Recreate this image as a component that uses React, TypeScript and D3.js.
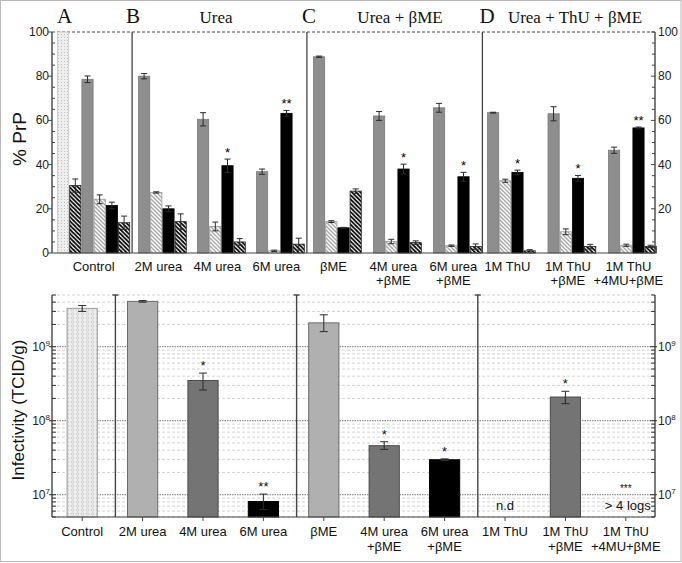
import React from "react";
import * as d3 from "d3";

// ---------- DATA ----------
const topGroups: string[][] = [
  ["Control"], ["2M urea"], ["4M urea"], ["6M urea"], ["βME"],
  ["4M urea", "+βME"], ["6M urea", "+βME"], ["1M ThU"], ["1M ThU", "+βME"], ["1M ThU", "+4MU+βME"],
];
const topGray = [78.6, 80, 60.5, 36.8, 88.8, 62, 65.7, 63.5, 63, 46.5];
const topGrayErr = [1.5, 1.2, 3, 1.2, 0.3, 2, 2, 0.2, 3.2, 1.4];
const topLight = [24.3, 27.4, 12, 1, 14.2, 5.2, 3.3, 32.7, 9.6, 3.5];
const topLightErr = [2, 0.3, 2, 0.3, 0.4, 1, 0.3, 0.7, 1.3, 0.5];
const topBlack = [21.5, 20, 39.5, 63.2, 11.4, 38, 34.5, 36.5, 33.8, 56.6];
const topBlackErr = [1.5, 1.3, 3, 1.3, 0.2, 2.2, 2, 1, 1.3, 0.4];
const topDark = [13.7, 14.2, 5, 4, 28, 4.7, 2.9, 1, 2.9, 3];
const topDarkErr = [3, 3.5, 1.5, 2.7, 1, 0.8, 1.2, 0.5, 1, 0.5];
const topBlackStars = ["", "", "*", "**", "", "*", "*", "*", "*", "**"];
const controlStippleVal = 100;
const controlHatchVal = 30.5;
const controlHatchErr = 3;
const topTicks = [0, 20, 40, 60, 80, 100];

const bottomCats: string[][] = [
  ["Control"], ["2M urea"], ["4M urea"], ["6M urea"], ["βME"],
  ["4M urea", "+βME"], ["6M urea", "+βME"], ["1M ThU"], ["1M ThU", "+βME"], ["1M ThU", "+4MU+βME"],
];
const bottomVals: (number | null)[] = [3.3e9, 4.1e9, 3.5e8, 8.1e6, 2.1e9, 4.6e7, 2.97e7, null, 2.09e8, null];
const bottomLow: (number | null)[] = [3.0e9, 4.0e9, 2.6e8, 6.3e6, 1.6e9, 4.1e7, 2.9e7, null, 1.7e8, null];
const bottomHigh: (number | null)[] = [3.6e9, 4.2e9, 4.4e8, 1.02e7, 2.7e9, 5.2e7, 3.05e7, null, 2.5e8, null];
const bottomStars = ["", "", "*", "**", "", "*", "*", "", "*", "***"];
const bottomNotes = ["", "", "", "", "", "", "", "n.d", "", "> 4 logs"];
const bottomFillKind = ["stippleO", "light", "dark", "black", "light", "dark", "black", "none", "dark", "none"];
const logExps = [7, 8, 9];

// ---------- LAYOUT ----------
const W = 682, H = 563;
const L = 52, R = 655;
const SANS = "'Liberation Sans', Arial, sans-serif";
const SERIF = "'Liberation Serif', 'Times New Roman', serif";

const yTop = d3.scaleLinear().domain([0, 100]).range([253, 32]);
const topX = d3.scaleLinear().domain([0, 1, 3, 4, 6, 7, 9]).range([57, 138, 256, 313, 433, 487, 608]);
const BW = 12.2;
const ctrlKeys = ["stipple", "hatchA", "gray", "light", "black", "dark"];
const grpKeys = ["gray", "light", "black", "dark"];
const innerCtrl = d3.scaleBand().domain(ctrlKeys).range([0, BW * 6]);
const innerGrp = d3.scaleBand().domain(grpKeys).range([0, BW * 4]);

const yBot = d3.scaleLog().domain([5e6, 5e9]).range([517, 295]);
const xBot = d3.scaleBand().domain(bottomCats.map((c) => c.join(" "))).range([52, 656]).paddingInner(0.5).paddingOuter(0.25);

const topFill: Record<string, string> = {
  stipple: "url(#stip)", hatchA: "url(#dhatch)", gray: "#8e8e8e", light: "url(#lhatch)", black: "#000", dark: "url(#dhatch)",
};
const topStroke: Record<string, string> = {
  stipple: "#c4c4c4", hatchA: "#222", gray: "#7a7a7a", light: "#9a9a9a", black: "#000", dark: "#222",
};
const botFill: Record<string, string> = { stippleO: "url(#stipO)", light: "#b0b0b0", dark: "#747474", black: "#000" };
const botStroke: Record<string, string> = { stippleO: "#9a9a9a", light: "#6a6a6a", dark: "#4a4a4a", black: "#000" };

function ErrBar({ x, y1, y2, cap }: { x: number; y1: number; y2: number; cap: number }) {
  return (
    <g stroke="#2a2a2a" strokeWidth={1}>
      <line x1={x} x2={x} y1={y1} y2={y2} />
      <line x1={x - cap} x2={x + cap} y1={y1} y2={y1} />
      <line x1={x - cap} x2={x + cap} y1={y2} y2={y2} />
    </g>
  );
}

export default function App() {
  const topBars: any[] = [];
  topGroups.forEach((g, i) => {
    const x0 = topX(i);
    const entries: [string, number, number][] = [];
    if (i === 0) {
      entries.push(["stipple", controlStippleVal, 0]);
      entries.push(["hatchA", controlHatchVal, controlHatchErr]);
    }
    entries.push(["gray", topGray[i], topGrayErr[i]]);
    entries.push(["light", topLight[i], topLightErr[i]]);
    entries.push(["black", topBlack[i], topBlackErr[i]]);
    entries.push(["dark", topDark[i], topDarkErr[i]]);
    const inner = i === 0 ? innerCtrl : innerGrp;
    entries.forEach(([k, v, e]) => {
      const x = x0 + (inner(k) as number);
      const cx = x + BW / 2;
      topBars.push(
        <g key={`t${i}${k}`}>
          <rect x={x + 0.5} y={yTop(v)} width={BW - 1} height={yTop(0) - yTop(v)} fill={topFill[k]} stroke={topStroke[k]} strokeWidth={0.8} />
          {e > 0 && <ErrBar x={cx} y1={yTop(v + e)} y2={yTop(Math.max(0, v - e))} cap={3} />}
          {k === "black" && topBlackStars[i] && (
            <text x={cx} y={yTop(v + e) - 2} fontSize={13} fontFamily={SANS} textAnchor="middle">{topBlackStars[i]}</text>
          )}
        </g>
      );
    });
  });
  const groupWidth = (i: number) => (i === 0 ? BW * 6 : BW * 4);
  const topLabelX = (i: number) => topX(i) + groupWidth(i) / 2 - (i === 0 ? 0 : 4);
  const topSep = (i: number) => (topX(i - 1) + groupWidth(i - 1) + topX(i)) / 2 - 2;

  const botSep = (i: number) => {
    const a = bottomCats[i - 1].join(" "), b = bottomCats[i].join(" ");
    return ((xBot(a) as number) + (xBot(b) as number) + xBot.bandwidth()) / 2 + 3;
  };
  const gridVals: { v: number; major: boolean }[] = [];
  [6, 7, 8, 9].forEach((d) => {
    for (let m = 1; m <= 9; m++) {
      const v = m * Math.pow(10, d);
      if (v >= 5e6 && v <= 5e9) gridVals.push({ v, major: m === 1 });
    }
  });

  return (
    <svg width={W} height={H} style={{ position: "absolute", left: 0, top: 0, background: "#fff" }}>
      <defs>
        <pattern id="dhatch" patternUnits="userSpaceOnUse" width={4.2} height={4.2}>
          <rect width={4.2} height={4.2} fill="#fff" />
          <path d="M-1,-1 L5.2,5.2 M-1,3.2 L1,5.2 M3.2,-1 L5.2,1" stroke="#000" strokeWidth={1.7} />
        </pattern>
        <pattern id="lhatch" patternUnits="userSpaceOnUse" width={4} height={4}>
          <rect width={4} height={4} fill="#fff" />
          <path d="M-1,-1 L5,5 M-1,3 L1,5 M3,-1 L5,1" stroke="#a8a8a8" strokeWidth={1.4} />
        </pattern>
        <pattern id="stip" patternUnits="userSpaceOnUse" width={3} height={3}>
          <rect width={3} height={3} fill="#efefef" />
          <rect x={1} y={1} width={1} height={1} fill="#c0c0c0" />
        </pattern>
        <pattern id="stipO" patternUnits="userSpaceOnUse" width={5} height={4}>
          <rect width={5} height={4} fill="#efefef" />
          <circle cx={2.5} cy={2} r={1.3} fill="none" stroke="#bdbdbd" strokeWidth={0.6} />
        </pattern>
      </defs>
      <rect x={0.5} y={0.5} width={W - 1.5} height={H - 2} fill="none" stroke="#b8b8b8" strokeWidth={1} />

      {/* ===== TOP PANEL ===== */}
      <line x1={L} x2={R} y1={yTop(100)} y2={yTop(100)} stroke="#333" strokeDasharray="3,2" strokeWidth={0.9} />
      {topBars}
      <line x1={L} x2={R} y1={yTop(0)} y2={yTop(0)} stroke="#444" strokeWidth={1.2} />
      <line x1={L} x2={L} y1={yTop(100)} y2={yTop(0)} stroke="#444" strokeWidth={1.4} />
      <line x1={R} x2={R} y1={yTop(100)} y2={yTop(0)} stroke="#444" strokeWidth={1.4} />
      {d3.range(0, 101, 5).map((t) => (
        <g key={`tt${t}`} stroke="#444" strokeWidth={1}>
          {t % 20 === 0 ? (
            <>
              <line x1={L - 4} x2={L} y1={yTop(t)} y2={yTop(t)} />
              <line x1={R - 4} x2={R} y1={yTop(t)} y2={yTop(t)} />
            </>
          ) : (
            <>
              <line x1={L} x2={L + 3} y1={yTop(t)} y2={yTop(t)} />
              <line x1={R - 3} x2={R} y1={yTop(t)} y2={yTop(t)} />
            </>
          )}
        </g>
      ))}
      {topTicks.map((t) => (
        <text key={`tl${t}`} x={L - 3} y={yTop(t) + 4} fontSize={12} fontFamily={SANS} textAnchor="end" fill="#222">{t}</text>
      ))}
      {topTicks.filter((t) => t > 0).map((t) => (
        <text key={`tr${t}`} x={R + 3} y={yTop(t) + 4} fontSize={12} fontFamily={SANS} textAnchor="start" fill="#222">{t}</text>
      ))}
      {[1, 4, 7].map((i) => (
        <line key={`ts${i}`} x1={topSep(i)} x2={topSep(i)} y1={yTop(100)} y2={yTop(0)} stroke="#444" strokeWidth={1.3} />
      ))}
      {topGroups.map((g, i) =>
        g.map((line, j) => (
          <text key={`tg${i}${j}`} x={topLabelX(i)} y={271 + j * 14} fontSize={13} fontFamily={SANS} textAnchor="middle" fill="#111">{line}</text>
        ))
      )}
      <text x={26} y={139} fontSize={19} fontFamily={SANS} textAnchor="middle" transform="rotate(-90 26 139)" fill="#111">% PrP</text>
      <text x={57} y={23} fontSize={21} fontFamily={SERIF} fill="#111">A</text>
      <text x={topSep(1) - 6} y={23} fontSize={21} fontFamily={SERIF} fill="#111">B</text>
      <text x={topSep(4) - 5} y={23} fontSize={21} fontFamily={SERIF} fill="#111">C</text>
      <text x={topSep(7) - 3} y={23} fontSize={21} fontFamily={SERIF} fill="#111">D</text>
      <text x={216} y={23} fontSize={17} fontFamily={SERIF} textAnchor="middle" fill="#111">Urea</text>
      <text x={400} y={23} fontSize={17} fontFamily={SERIF} textAnchor="middle" fill="#111">Urea + βME</text>
      <text x={575} y={23} fontSize={17} fontFamily={SERIF} textAnchor="middle" fill="#111">Urea + ThU + βME</text>

      {/* ===== BOTTOM PANEL ===== */}
      {gridVals.map(({ v, major }) => (
        <line key={`g${v}`} x1={L} x2={R} y1={yBot(v)} y2={yBot(v)} stroke={major ? "#666" : "#c8c8c8"} strokeDasharray={major ? "1.5,1" : "3,2"} strokeWidth={major ? 0.9 : 0.8} />
      ))}
      {bottomCats.map((c, i) => {
        const v = bottomVals[i];
        const x = xBot(c.join(" ")) as number;
        const bw = xBot.bandwidth();
        const cx = x + bw / 2;
        const hi = bottomHigh[i], lo = bottomLow[i];
        return (
          <g key={`b${i}`}>
            {v !== null && (
              <rect x={x} y={yBot(v)} width={bw} height={yBot(5e6) - yBot(v)} fill={botFill[bottomFillKind[i]]} stroke={botStroke[bottomFillKind[i]]} strokeWidth={1} />
            )}
            {v !== null && hi !== null && lo !== null && <ErrBar x={cx} y1={yBot(hi)} y2={Math.min(yBot(lo), 517)} cap={4} />}
            {bottomStars[i] && (
              <text x={cx} y={(hi !== null ? yBot(hi) : yBot(1e7)) - 3} fontSize={bottomStars[i] === "***" ? 10 : 13} fontFamily={SANS} textAnchor="middle" fill="#111">{bottomStars[i]}</text>
            )}
            {bottomNotes[i] && (
              <text x={cx + (bottomNotes[i].length > 4 ? 2 : 0)} y={510} fontSize={13} fontFamily={SANS} textAnchor="middle" fill="#111">{bottomNotes[i]}</text>
            )}
            <line x1={cx} x2={cx} y1={517} y2={521} stroke="#444" />
            {c.map((line, j) => (
              <text key={j} x={cx} y={536 + j * 15} fontSize={13} fontFamily={SANS} textAnchor="middle" fill="#111">{line}</text>
            ))}
          </g>
        );
      })}
      <line x1={L} x2={R} y1={517} y2={517} stroke="#444" strokeWidth={1.2} />
      <line x1={L} x2={L} y1={yBot(5e9)} y2={yBot(5e6)} stroke="#444" strokeWidth={1.4} />
      <line x1={R} x2={R} y1={yBot(5e9)} y2={yBot(5e6)} stroke="#444" strokeWidth={1.4} />
      {gridVals.map(({ v, major }) => (
        <g key={`bt${v}`} stroke="#333" strokeWidth={1}>
          {major ? (
            <>
              <line x1={L - 3} x2={L + 4} y1={yBot(v)} y2={yBot(v)} />
              <line x1={R - 5} x2={R + 2} y1={yBot(v)} y2={yBot(v)} />
            </>
          ) : (
            <>
              <line x1={L} x2={L + 4} y1={yBot(v)} y2={yBot(v)} />
              <line x1={R - 4} x2={R} y1={yBot(v)} y2={yBot(v)} />
            </>
          )}
        </g>
      ))}
      {logExps.map((e) => (
        <g key={`le${e}`}>
          <text x={L - 2} y={yBot(Math.pow(10, e)) + 4} fontSize={12} fontFamily={SANS} textAnchor="end" fill="#222">
            10<tspan dy={-5} fontSize={8}>{e}</tspan>
          </text>
          <text x={R + 3} y={yBot(Math.pow(10, e)) + 4} fontSize={12} fontFamily={SANS} textAnchor="start" fill="#222">
            10<tspan dy={-5} fontSize={8}>{e}</tspan>
          </text>
        </g>
      ))}
      {[1, 4, 7].map((i) => (
        <g key={`bs${i}`} stroke="#444" strokeWidth={1.4}>
          <line x1={botSep(i)} x2={botSep(i)} y1={yBot(5e9)} y2={517} />
          <line x1={botSep(i) - 3} x2={botSep(i) + 3} y1={yBot(5e9)} y2={yBot(5e9)} />
        </g>
      ))}
      <text x={24} y={410} fontSize={17} fontFamily={SANS} textAnchor="middle" transform="rotate(-90 24 410)" fill="#111">Infectivity (TCID/g)</text>
    </svg>
  );
}
